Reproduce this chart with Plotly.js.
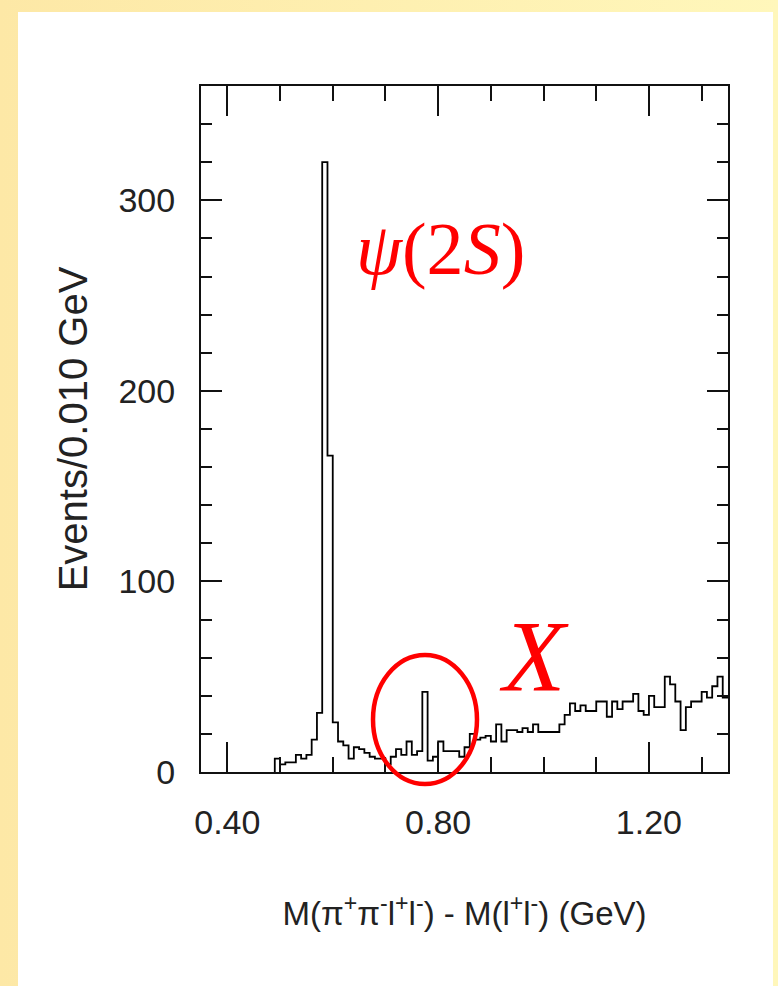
<!DOCTYPE html>
<html><head><meta charset="utf-8">
<script src="https://cdn.plot.ly/plotly-3.0.1.min.js"></script>
<style>
html,body{margin:0;padding:0;width:778px;height:986px;overflow:hidden;background:linear-gradient(to right,#fde8a6,#fff7bb);}
#frame{position:absolute;left:18px;top:12px;width:755px;height:974px;background:#ffffff;}
#chart{position:absolute;left:0;top:0;width:778px;height:986px;}
</style></head><body>
<div id="frame"></div><div id="chart"></div>
<script>
// Histogram: events per 0.010 GeV bin, first bin starts at 0.49 GeV
const binLow = 0.49;
const binWidth = 0.01;
const counts = [
  7, 4, 5, 5, 9, 7, 9, 17, 31, 320,
  166, 26, 16, 14, 7, 13, 12, 10, 8, 7,
  7, 4, 8, 12, 9, 16, 9, 11, 42, 6,
  8, 16, 11, 11, 11, 8, 13, 20, 17, 18,
  19, 16, 25, 16, 22, 22, 21, 23, 21, 25,
  21, 21, 21, 21, 25, 30, 36, 32, 35, 32,
  32, 37, 37, 29, 37, 33, 37, 37, 41, 32,
  30, 40, 34, 34, 50, 46, 37, 22, 34, 37,
  37, 42, 39, 45, 50, 39
];
const xTickVals = [0.4, 0.8, 1.2];
const xTickText = ['0.40', '0.80', '1.20'];
const yTickVals = [0, 100, 200, 300];
const yTickText = ['0', '100', '200', '300'];
const xTitle = 'M(π<sup>+</sup>π<sup>-</sup>l<sup>+</sup>l<sup>-</sup>) - M(l<sup>+</sup>l<sup>-</sup>) (GeV)';
const yTitle = 'Events/0.010 GeV';
const peakLabel = '<i>ψ</i>(2<i>S</i>)';
const xLabel = '<i>X</i>';

// step outline built from bin edges
const xs = [binLow];
const ys = [0];
counts.forEach((c, i) => { xs.push(Number((binLow + i * binWidth).toFixed(4))); ys.push(c); });
xs.push(Number((binLow + counts.length * binWidth).toFixed(4)));
ys.push(counts[counts.length - 1]);

const trace = {
  x: xs, y: ys, type: 'scatter', mode: 'lines',
  line: {shape: 'hv', color: '#000000', width: 1.8},
  hoverinfo: 'skip', showlegend: false, cliponaxis: false
};

const tickFont = {family: 'Liberation Sans, Arial, sans-serif', size: 34, color: '#222'};
const layout = {
  width: 778, height: 986,
  margin: {l: 201, r: 50, t: 86, b: 214, pad: 0},
  paper_bgcolor: 'rgba(0,0,0,0)', plot_bgcolor: 'rgba(0,0,0,0)',
  showlegend: false,
  xaxis: {
    range: [0.35, 1.35], showgrid: false, zeroline: false,
    showline: true, linecolor: '#111', linewidth: 2, mirror: 'ticks',
    ticks: 'inside', ticklen: 30, tickwidth: 2, tickcolor: '#111',
    tickvals: xTickVals, ticktext: xTickText, tickfont: tickFont,
    ticklabelstandoff: 19,
    minor: {ticks: 'inside', dtick: 0.1, tick0: 0.4, ticklen: 15, tickwidth: 2, tickcolor: '#111', showgrid: false},
    title: {text: xTitle, font: {family: 'Liberation Sans, Arial, sans-serif', size: 33, color: '#222'}, standoff: 62}
  },
  yaxis: {
    range: [0, 360], showgrid: false, zeroline: false,
    showline: true, linecolor: '#111', linewidth: 2, mirror: 'ticks',
    ticks: 'inside', ticklen: 21, tickwidth: 2, tickcolor: '#111',
    tickvals: yTickVals, ticktext: yTickText, tickfont: tickFont,
    ticklabelstandoff: 17,
    minor: {ticks: 'inside', dtick: 20, tick0: 0, ticklen: 11, tickwidth: 2, tickcolor: '#111', showgrid: false},
    title: {text: yTitle, font: {family: 'Liberation Sans, Arial, sans-serif', size: 40, color: '#222'}, standoff: 18}
  },
  annotations: [
    {text: peakLabel, xref: 'paper', yref: 'paper', x: 0.455, y: 0.762, xanchor: 'center', yanchor: 'middle',
     showarrow: false, font: {family: 'Liberation Serif, DejaVu Serif, serif', size: 74, color: '#ff0000'}},
    {text: xLabel, xref: 'paper', yref: 'paper', x: 0.632, y: 0.168, xanchor: 'center', yanchor: 'middle',
     showarrow: false, font: {family: 'Liberation Serif, DejaVu Serif, serif', size: 102, color: '#ff0000'}}
  ],
  shapes: [
    {type: 'circle', xref: 'paper', yref: 'paper', x0: 0.3264, x1: 0.5237, y0: -0.0175, y1: 0.1706,
     line: {color: '#ff0000', width: 4.5}, layer: 'above'}
  ]
};

Plotly.newPlot('chart', [trace], layout, {staticPlot: true, displayModeBar: false});
</script>
</body></html>
